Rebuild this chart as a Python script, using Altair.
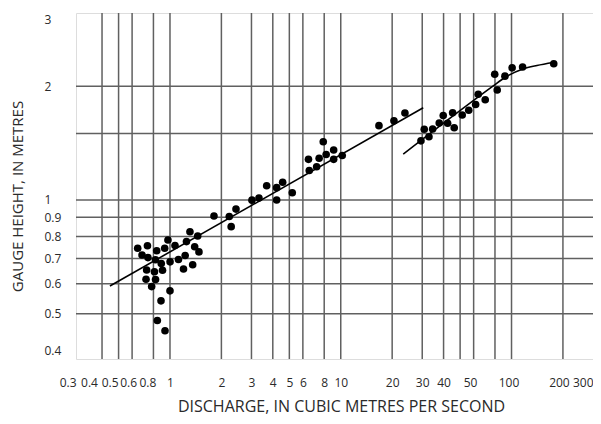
import altair as alt
import pandas as pd

# Observed discharge (m3/s) and gauge height (m)
q_low = [1.309, 1.453, 0.973, 1.249, 0.647, 0.738, 1.070, 1.395, 0.836, 0.931,
         1.478, 0.686, 0.743, 0.822, 1.227, 1.121, 1.001, 0.889, 0.730, 0.811,
         0.904, 1.200, 1.358, 0.724, 0.823, 0.781, 1.000, 0.886, 0.843, 0.935]
h_low = [0.824, 0.803, 0.784, 0.776, 0.745, 0.757, 0.758, 0.752, 0.734, 0.745,
         0.729, 0.715, 0.704, 0.695, 0.713, 0.696, 0.686, 0.679, 0.653, 0.646,
         0.652, 0.657, 0.674, 0.617, 0.616, 0.590, 0.575, 0.541, 0.480, 0.451]
q_mid = [1.810, 2.224, 2.435, 2.282, 3.021, 3.319, 3.683, 4.214, 4.214, 4.568,
         5.200, 6.470, 6.540, 7.225, 7.472, 7.898, 8.214, 9.088, 9.088, 10.20,
         16.74, 20.49, 23.76]
h_mid = [0.907, 0.904, 0.946, 0.850, 0.999, 1.012, 1.091, 1.078, 1.000, 1.114,
         1.045, 1.281, 1.197, 1.224, 1.290, 1.426, 1.319, 1.356, 1.281, 1.311,
         1.573, 1.621, 1.699]
q_high = [29.49, 30.83, 32.85, 34.52, 37.73, 39.82, 42.25, 45.20, 46.18, 51.44,
          56.16, 61.63, 63.83, 70.15, 79.73, 82.46, 91.5, 100.8, 116.1, 176.7]
h_high = [1.434, 1.539, 1.470, 1.541, 1.599, 1.673, 1.596, 1.702, 1.553, 1.678,
          1.727, 1.789, 1.905, 1.842, 2.151, 1.954, 2.126, 2.237, 2.248, 2.293]

# Rating curves
curve1_q = [0.445, 30.41]
curve1_h = [0.592, 1.754]
curve2_q = [23.22, 78.15, 91.5, 116.6, 140.8, 175.5]
curve2_h = [1.322, 2.003, 2.109, 2.221, 2.269, 2.311]

# Axes
x_grid = [0.4, 0.5, 0.6, 0.8, 1, 2, 3, 4, 5, 6, 8, 10, 20, 30, 40, 50, 60, 80, 100, 200]
y_grid = [0.5, 0.6, 0.7, 0.8, 0.9, 1, 1.5, 2]
x_labels = [0.3, 0.4, 0.5, 0.6, 0.8, 1, 2, 3, 4, 5, 6, 8, 10, 20, 30, 40, 50, 100, 200, 300]
y_labels = [0.4, 0.5, 0.6, 0.7, 0.8, 0.9, 1, 2, 3]

FONT = "Open Sans"
GRID = "#606060"
TXT = "#2a2a2a"

xs = alt.Scale(type="log", domain=[0.2816, 300], nice=False)
ys = alt.Scale(type="log", domain=[0.3796, 3.124], nice=False)

pts = pd.DataFrame({"q": q_low + q_mid + q_high, "h": h_low + h_mid + h_high})
c1 = pd.DataFrame({"q": curve1_q, "h": curve1_h})
c2 = pd.DataFrame({"q": curve2_q, "h": curve2_h})
gx = pd.DataFrame({"q": x_grid})
gy = pd.DataFrame({"h": y_grid})

# crowded small-value labels are spread a little, as on the original sheet
label_shift = {
    "condition": [
        {"test": "datum.value == 0.3", "value": -13},
        {"test": "datum.value == 0.4", "value": -13},
        {"test": "datum.value == 0.5", "value": -9},
        {"test": "datum.value == 0.6", "value": -4},
        {"test": "datum.value == 0.8", "value": -6},
        {"test": "datum.value == 50", "value": 10},
        {"test": "datum.value == 100", "value": -3},
        {"test": "datum.value == 200", "value": -4},
    ],
    "value": 0,
}

xaxis = alt.Axis(values=x_labels, format="~g", grid=False, domain=False, ticks=False,
                 tickSize=0, labelPadding=23, labelBaseline="middle", labelFlush=1,
                 labelOverlap=False, labelOffset=label_shift,
                 labelFont=FONT, labelFontSize=12, labelColor=TXT,
                 title="DISCHARGE, IN CUBIC METRES PER SECOND",
                 titleFont=FONT, titleFontSize=16, titleFontWeight="normal", titleColor=TXT,
                 titleX=265, titleY=47, titleBaseline="middle", titleAlign="center")
yaxis = alt.Axis(values=y_labels, format="~g", grid=False, domain=False, ticks=False,
                 tickSize=0, labelPadding=32, labelAlign="left", labelBaseline="middle",
                 labelOverlap=False,
                 labelFont=FONT, labelFontSize=12, labelColor=TXT,
                 title="GAUGE HEIGHT, IN METRES",
                 titleFont=FONT, titleFontSize=15, titleFontWeight="normal", titleColor=TXT,
                 titleAngle=270, titleX=-59, titleY=183, titleBaseline="middle", titleAlign="center")

X = alt.X("q:Q", scale=xs, axis=xaxis)
Y = alt.Y("h:Q", scale=ys, axis=yaxis)

vrules = alt.Chart(gx).mark_rule(color=GRID, strokeWidth=1.5).encode(x=X)
hrules = alt.Chart(gy).mark_rule(color=GRID, strokeWidth=1.5).encode(y=Y)
dots = alt.Chart(pts).mark_circle(color="black", opacity=1, size=58).encode(x=X, y=Y)
line1 = alt.Chart(c1).mark_line(color="black", strokeWidth=1.6).encode(x=X, y=Y)
line2 = alt.Chart(c2).mark_line(color="black", strokeWidth=1.6, interpolate="monotone").encode(x=X, y=Y)

chart = alt.layer(vrules, hrules, line1, line2, dots).properties(
    width=517, height=346,
    autosize=alt.AutoSizeParams(type="none"),
    padding={"left": 68, "top": 5, "right": 0, "bottom": 57},
).configure_view(stroke=GRID, strokeWidth=1.5).configure(background="white")

chart.save("out.html", embed_options={"renderer": "svg", "actions": False})
